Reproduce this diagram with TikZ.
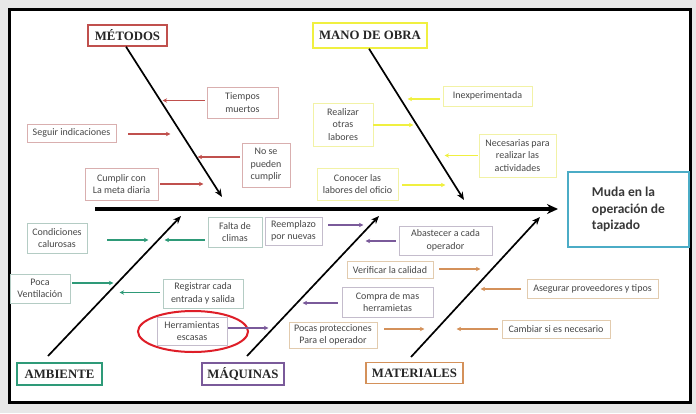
\documentclass[tikz,border=0pt]{standalone}
\usepackage{fontspec}
\setmainfont{Carlito}
\newfontfamily\catfont{Liberation Serif}
\usetikzlibrary{arrows.meta,shapes.geometric}
\definecolor{cred}{HTML}{C0504D}
\definecolor{cyel}{HTML}{F0F040}
\definecolor{cgrn}{HTML}{2E9A78}
\definecolor{cpur}{HTML}{7A5A9A}
\definecolor{corg}{HTML}{D4915A}
\definecolor{cteal}{HTML}{4BACC6}
\definecolor{bred}{HTML}{D9AFAF}
\definecolor{byel}{HTML}{F2F2A6}
\definecolor{bgrn}{HTML}{B4CCC4}
\definecolor{bpur}{HTML}{C4BCCC}
\definecolor{borg}{HTML}{E2CBAE}
\tikzset{
  lbl/.style={draw=#1, line width=0.8pt, fill=white, font=\fontsize{10}{12.5}\selectfont,
    text=black!72, align=center, inner sep=1pt},
  cat/.style={draw=#1, line width=1.4pt, fill=white, font=\catfont\bfseries\fontsize{12.8}{14}\selectfont,
    text=black!85, inner sep=0pt},
  carr/.style={draw=#1, line width=1.3pt, -{Stealth[length=4.5pt,width=4.5pt]}},
  spine/.style={line width=1.7pt, -{Stealth[length=8pt,width=6.5pt]}}
}
\begin{document}
\begin{tikzpicture}[x=1pt,y=-1pt]
\fill[black!9] (0,0) rectangle (696,413);
\draw[line width=3pt, fill=white] (9,9) rectangle (690,402);
\useasboundingbox (0,0) rectangle (696,413);

% category boxes
\node[cat=cred, minimum width=79, minimum height=21] (met) at (127.5,35.5) {MÉTODOS};
\node[cat=cyel, minimum width=114, minimum height=25] (mano) at (370,35.5) {MANO DE OBRA};
\node[cat=cgrn, minimum width=85, minimum height=22] (amb) at (59.5,374) {AMBIENTE};
\node[cat=cpur, minimum width=82, minimum height=22] (maq) at (243,374) {MÁQUINAS};
\node[cat=corg, minimum width=97, minimum height=21] (mat) at (414.5,373) {MATERIALES};
\node[draw=cteal, line width=1.6pt, minimum width=121, minimum height=75, align=left,
  font=\bfseries\fontsize{13.5}{16.5}\selectfont, text=black!78] (muda) at (628.5,209.5)
  {Muda en la\\operación de\\tapizado};

% spines
\coordinate (mainS) at (95,209);
\coordinate (mainE) at (558,209);
\draw[line width=3.2pt, -{Stealth[length=11pt,width=10pt]}] (mainS) -- (mainE);
\coordinate (metE) at (222,197);
\coordinate (manE) at (464,200);
\coordinate (ambS) at (48,356);
\coordinate (ambE) at (181,216);
\coordinate (maqS) at (247,356);
\coordinate (maqE) at (379,216);
\coordinate (matS) at (411,357);
\coordinate (matE) at (540,217);
\draw[spine] ([xshift=-1.5]met.south) -- (metE);
\draw[spine] ([xshift=-1]mano.south) -- (manE);
\draw[spine] (ambS) -- (ambE);
\draw[spine] (maqS) -- (maqE);
\draw[spine] (matS) -- (matE);

% Metodos
\node[lbl=bred, minimum width=71, minimum height=31] (tm) at (242.5,102.5) {Tiempos\\muertos};
\node[lbl=bred, minimum width=89, minimum height=18] (si) at (71.5,133) {Seguir indicaciones};
\node[lbl=bred, minimum width=48, minimum height=44] (nsp) at (266,165) {No se\\pueden\\cumplir};
\node[lbl=bred, minimum width=73, minimum height=32] (cc) at (121.5,184) {Cumplir con\\La meta diaria};
\draw[carr=cred] (tm.west) ++(-2,-2) -- ++(-42,0);
\draw[carr=cred] (si.east) ++(12,1) -- ++(42,0);
\draw[carr=cred] (nsp.west) ++(-2,-8) -- ++(-42,0);
\draw[carr=cred] (cc.east) ++(2,0) -- ++(43,0);

% Mano de obra
\node[lbl=byel, minimum width=89, minimum height=20] (inx) at (487.5,96) {Inexperimentada};
\node[lbl=byel, minimum width=60, minimum height=43] (rol) at (343,124.5) {Realizar\\otras\\labores};
\node[lbl=byel, minimum width=77, minimum height=43] (nec) at (517.5,155.5) {Necesarias para\\realizar las\\actividades};
\node[lbl=byel, minimum width=81, minimum height=32] (clo) at (357.5,184) {Conocer las\\labores del oficio};
\draw[carr=cyel] (inx.west) ++(-3,3) -- ++(-32,0);
\draw[carr=cyel] (rol.east) ++(0,0.5) -- ++(40,0);
\draw[carr=cyel] (nec.west) ++(-1,0) -- ++(-33,0);
\draw[carr=cyel] (clo.east) ++(4,1) -- ++(43,0);

% Ambiente
\node[lbl=bgrn, minimum width=60, minimum height=30] (cal) at (57,238) {Condiciones\\calurosas};
\node[lbl=bgrn, minimum width=54, minimum height=30] (fcl) at (235,232) {Falta de\\climas};
\node[lbl=bgrn, minimum width=60, minimum height=29] (pv) at (40,288.5) {Poca\\Ventilación};
\node[lbl=bgrn, minimum width=80, minimum height=29] (reg) at (203,293.5) {Registrar cada\\entrada y salida};
\draw[carr=cgrn] (cal.east) ++(20,2) -- ++(41,0);
\draw[carr=cgrn] (fcl.west) ++(-3,8) -- ++(-40,0);
\draw[carr=cgrn] (pv.east) ++(2,-5.5) -- ++(41,0);
\draw[carr=cgrn] (reg.west) ++(-3,-1) -- ++(-40,0);

% Maquinas
\node[lbl=bpur, minimum width=70, minimum height=28] (her) at (192,331) {Herramientas\\escasas};
\node[draw={rgb,255:red,222;green,30;blue,40}, line width=2pt, ellipse, minimum width=110, minimum height=41] (ell) at (193,331.5) {};
\node[lbl=bpur, minimum width=57, minimum height=28] (ree) at (293.5,231) {Reemplazo\\por nuevas};
\node[lbl=bpur, minimum width=93, minimum height=29] (aba) at (445.5,240.5) {Abastecer a cada\\operador};
\node[lbl=bpur, minimum width=91, minimum height=30] (com) at (387.5,302) {Compra de mas\\herramietas};
\draw[carr=cpur] (her.east) ++(1,-3) -- ++(40,0);
\draw[carr=cpur] (ree.east) ++(6,-6) -- ++(35,0);
\draw[carr=cpur] (aba.west) ++(-3,0.5) -- ++(-30,0);
\draw[carr=cpur] (com.west) ++(-4,1) -- ++(-35,0);

% Materiales
\node[lbl=borg, minimum width=86, minimum height=17] (ver) at (390,270) {Verificar la calidad};
\node[lbl=borg, minimum width=131, minimum height=19] (ase) at (592.5,288.5) {Asegurar proveedores y tipos};
\node[lbl=borg, minimum width=88, minimum height=26] (poc) at (333,335) {Pocas protecciones\\Para el operador};
\node[lbl=borg, minimum width=108, minimum height=18] (cam) at (556,329) {Cambiar si es necesario};
\draw[carr=corg] (ver.east) ++(6,-1) -- ++(41,0);
\draw[carr=corg] (ase.west) ++(-6,0.5) -- ++(-40,0);
\draw[carr=corg] (poc.east) ++(7,-6) -- ++(40,0);
\draw[carr=corg] (cam.west) ++(-4,0) -- ++(-41,0);
\end{tikzpicture}
\end{document}
